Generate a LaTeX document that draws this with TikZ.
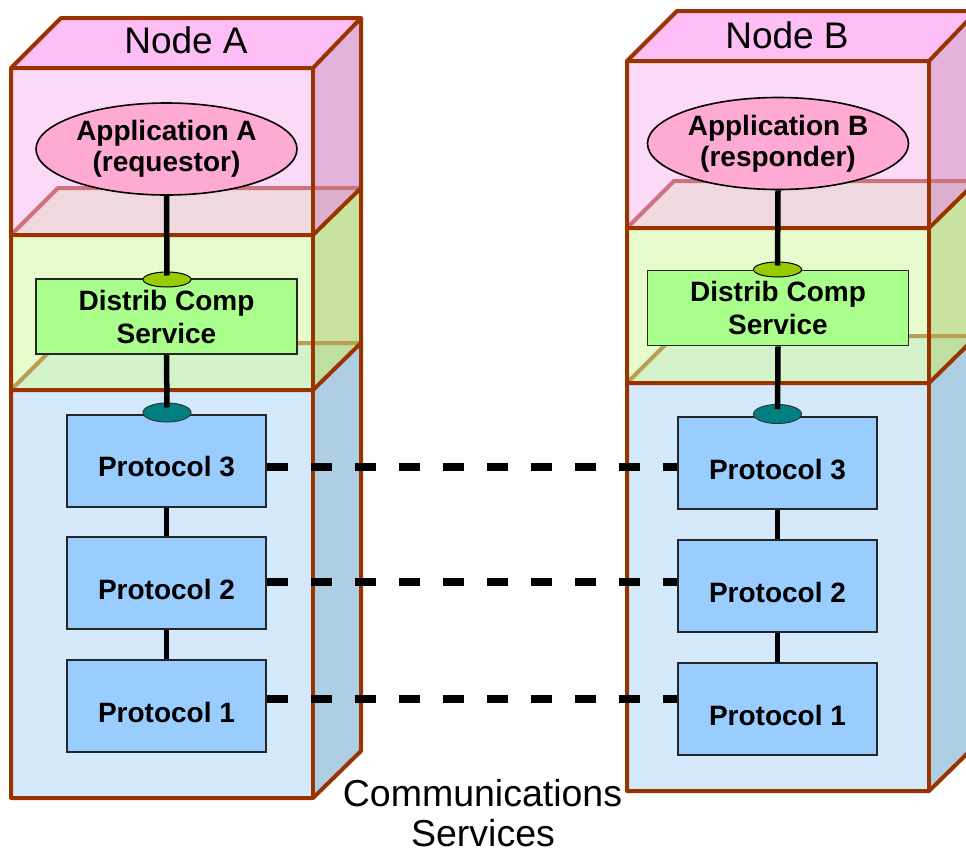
\documentclass[tikz,border=0pt]{standalone}
\usepackage{fontspec}
\setmainfont{Liberation Sans}
\usetikzlibrary{shapes.geometric}
\definecolor{edgebrown}{RGB}{153,51,0}
\definecolor{pinktop}{RGB}{253,190,245}
\definecolor{pinkfront}{RGB}{253,217,248}
\definecolor{pinkside}{RGB}{226,178,218}
\definecolor{pinkfloor}{RGB}{240,216,224}
\definecolor{pinkfloorside}{RGB}{220,176,205}
\definecolor{roseedge}{RGB}{205,115,125}
\definecolor{greenfront}{RGB}{230,252,205}
\definecolor{greenside}{RGB}{200,226,160}
\definecolor{greenfloor}{RGB}{213,243,203}
\definecolor{greenfloorside}{RGB}{190,222,162}
\definecolor{tanedge}{RGB}{184,158,82}
\definecolor{bluefront}{RGB}{212,234,252}
\definecolor{blueside}{RGB}{174,206,227}
\definecolor{appfill}{RGB}{255,170,210}
\definecolor{dcsfill}{RGB}{170,255,140}
\definecolor{portgreen}{RGB}{153,204,0}
\definecolor{portteal}{RGB}{0,128,128}
\definecolor{protfill}{RGB}{153,204,255}

\newcommand\drawstack{%
  % pink (top) box
  \fill[pinktop] (11,68) -- (61,18) -- (361,18) -- (313,68) -- cycle;
  \fill[pinkfront] (11,68) rectangle (313,235);
  \fill[pinkfloor] (11,235) -- (58,188) -- (313,188) -- (313,235) -- cycle;
  \fill[pinkside] (313,68) -- (361,18) -- (361,188) -- (313,235) -- cycle;
  \fill[pinkfloorside] (313,188) -- (361,188) -- (313,235) -- cycle;
  \draw[floorline, roseedge] (13,233) -- (58,188) -- (361,188);
  % green (middle) box
  \fill[greenfront] (11,235) rectangle (313,390);
  \fill[greenfloor] (11,390) -- (58,343) -- (313,343) -- (313,390) -- cycle;
  \fill[greenside] (313,235) -- (361,188) -- (361,343) -- (313,390) -- cycle;
  \fill[greenfloorside] (313,343) -- (361,343) -- (313,390) -- cycle;
  \draw[floorline, tanedge] (13,388) -- (58,343) -- (361,343);
  % blue (bottom) box
  \fill[bluefront] (11,390) rectangle (313,798);
  \fill[blueside] (313,390) -- (361,343) -- (361,751) -- (313,798) -- cycle;
  % edges
  \draw[boxedge] (11,798) -- (11,68) -- (61,18) -- (361,18) -- (361,751) -- (313,798) -- cycle;
  \draw[boxedge] (11,68) -- (313,68) -- (361,18);
  \draw[boxedge] (313,68) -- (313,798);
  \draw[boxedge] (11,235) -- (313,235) -- (361,188);
  \draw[boxedge] (11,390) -- (313,390) -- (361,343);
}

\begin{document}
\begin{tikzpicture}[x=1pt,y=-1pt,
  boxedge/.style={draw=edgebrown, line width=4pt, line join=round},
  floorline/.style={line width=4pt},
  title/.style={font=\fontsize{37}{40}\selectfont, inner sep=0pt, anchor=base},
  appell/.style={ellipse, draw=black, line width=1.6pt, fill=appfill,
    minimum width=261pt, minimum height=92pt, inner sep=0pt, align=center,
    font=\fontsize{28}{31}\selectfont\bfseries},
  dcsbox/.style={rectangle, draw=black!85, line width=1.8pt, fill=dcsfill,
    minimum width=261pt, minimum height=75pt, inner sep=0pt, align=center,
    font=\fontsize{28}{33}\selectfont\bfseries},
  protbox/.style={rectangle, draw=black!85, line width=2pt, fill=protfill,
    minimum width=199pt, minimum height=92pt, inner sep=0pt,
    text height=32pt, text depth=0pt,
    font=\fontsize{28}{31}\selectfont\bfseries},
  portg/.style={ellipse, draw=black, line width=1pt, fill=portgreen,
    minimum width=48pt, minimum height=15pt, inner sep=0pt},
  portt/.style={ellipse, draw=black!80, line width=1pt, fill=portteal,
    minimum width=48pt, minimum height=19pt, inner sep=0pt},
  conn/.style={draw=black, line width=5.5pt},
  dashline/.style={draw=black, line width=8pt, dash pattern=on 21pt off 23pt}
]
\useasboundingbox (0,0) rectangle (966,852);
\clip (0,0) rectangle (966,852);

% node stacks
\drawstack
\begin{scope}[shift={(616,-7)}]
  \drawstack
\end{scope}

% titles
\node[title] (nodeA) at (186,53) {Node A};
\node[title] (nodeB) at (787,48) {Node B};

% Node A contents
\node[appell] (appA) at (166.5,149) {Application A\\(requestor)};
\node[dcsbox] (dcsA) at (166.5,316.5) {Distrib Comp\\Service};
\node[protbox] (p3A) at (166.5,460.5) {Protocol 3};
\node[protbox] (p2A) at (166.5,583) {Protocol 2};
\node[protbox] (p1A) at (166.5,706) {Protocol 1};
\node[portg] (gA) at (167,279.5) {};
\node[portt] (tA) at (167,412.5) {};

% Node B contents
\node[appell] (appB) at (778,143.5) {Application B\\(responder)};
\node[dcsbox] (dcsB) at (778,308) {Distrib Comp\\Service};
\node[protbox] (p3B) at (777.5,463) {Protocol 3};
\node[protbox] (p2B) at (777.5,586) {Protocol 2};
\node[protbox] (p1B) at (777.5,709) {Protocol 1};
\node[portg] (gB) at (777.5,269.5) {};
\node[portt] (tB) at (777.5,414) {};

% vertical connectors
\draw[conn, shorten >=4pt] (appA.south) -- (gA.center);
\draw[conn, shorten >=5pt] (dcsA.south) -- (tA.center);
\draw[conn] (p3A.south) -- (p2A.north);
\draw[conn] (p2A.south) -- (p1A.north);
\draw[conn, shorten >=4pt] (appB.south) -- (gB.center);
\draw[conn, shorten >=5pt] (dcsB.south) -- (tB.center);
\draw[conn] (p3B.south) -- (p2B.north);
\draw[conn] (p2B.south) -- (p1B.north);

% peer protocol dashed links
\coordinate (d3) at ([yshift=-6.5pt]p3A.east);
\coordinate (d2) at ([yshift=1pt]p2A.east);
\coordinate (d1) at ([yshift=7pt]p1A.east);
\draw[dashline] (d3) -- (d3 -| p3B.west);
\draw[dashline] (d2) -- (d2 -| p2B.west);
\draw[dashline] (d1) -- (d1 -| p1B.west);

% bottom label
\node[title, font=\fontsize{37.5}{40}\selectfont] (comm1) at (482.5,806) {Communications};
\node[title, font=\fontsize{37.5}{40}\selectfont] (comm2) at (483,846) {Services};
\end{tikzpicture}
\end{document}
